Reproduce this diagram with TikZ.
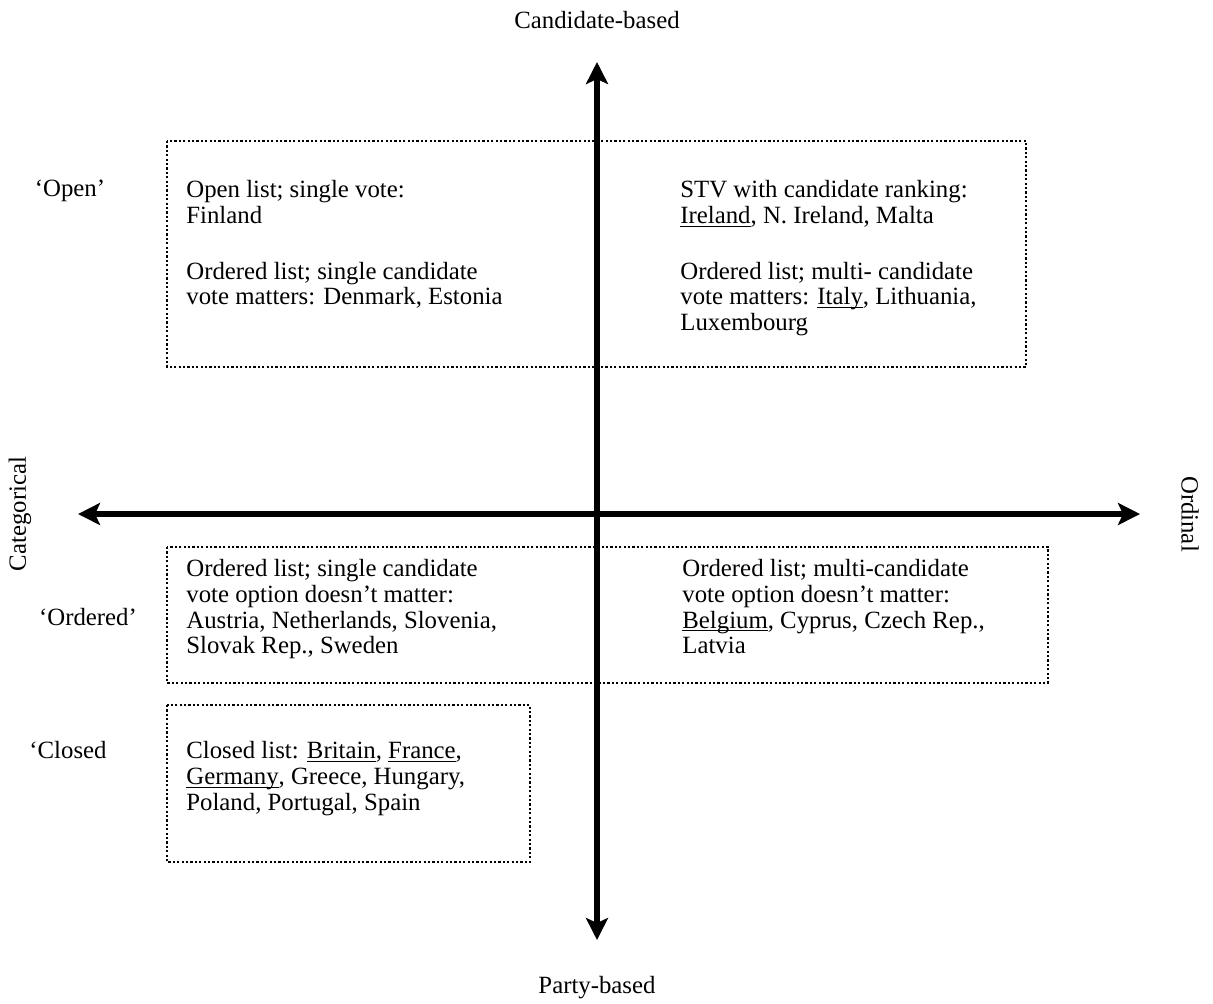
\documentclass[tikz,border=0pt]{standalone}
\usepackage{fontspec}
\setmainfont{Liberation Serif}
\usetikzlibrary{arrows.meta,positioning}

% underline at a fixed depth, through descenders
\newcommand{\undl}[1]{\underline{\smash{#1}}}

\begin{document}
\begin{tikzpicture}[
    x=0.5pt, y=-0.5pt,% one unit = one pixel of the sketch
    font=\fontsize{12.4}{12.9}\selectfont,
    axis/.style={
        % the two thick axes
        line width=3pt,
        {Stealth[length=11pt,width=11pt,inset=2.5pt]}-{Stealth[length=11pt,width=11pt,inset=2.5pt]}
      },
    group/.style={
        % dotted frames
        draw,
        line width=1.1pt,
        dash pattern=on 1.1pt off 1.1pt
      },
    entry/.style={
        % text inside the frames
        anchor=north west,
        inner sep=0pt,
        align=left
      },
    side/.style={inner sep=0pt}
  ]
  \useasboundingbox (0,0) rectangle (1213,1003);

  % frames
  \draw[group] (167,141) rectangle (1026,367);
  \draw[group] (167,547) rectangle (1048,683);
  \draw[group] (167,705) rectangle (530,862);

  % axes
  \coordinate (cand) at (597,62);
  \coordinate (party) at (597,940);
  \coordinate (cat) at (78,514);
  \coordinate (ord) at (1140,514);
  \draw[axis] (party) -- (cand);
  \draw[axis] (cat) -- (ord);

  \node[side] (candlbl) at (597,20) {Candidate-based};
  \node[side] (partylbl) at (597,988) {Party-based};
  \node[side,rotate=90] (catlbl) at (20,514) {Categorical};
  \node[side,rotate=-90] (ordlbl) at (1190,514) {Ordinal};

  % rows
  \node[side] (openlbl) at (70,191) {‘Open’};
  \node[side] (orderedlbl) at (88,617) {‘Ordered’};
  \node[side] (closedlbl) at (68,750) {‘Closed};

  % entries
  \node[entry] (openleft) at (186,179) {\strut Open list; single vote:\\
    Finland\\[15pt]
    Ordered list; single candidate\\
    vote matters: Denmark, Estonia};
  \node[entry] (openright) at (680,179) {\strut STV with candidate ranking:\\
    \undl{Ireland}, N. Ireland, Malta\\[15pt]
    Ordered list; multi- candidate\\
    vote matters: \undl{Italy}, Lithuania,\\
    Luxembourg};
  \node[entry] (ordleft) at (186,558) {\strut Ordered list; single candidate\\
    vote option doesn’t matter:\\
    Austria, Netherlands, Slovenia,\\
    Slovak Rep., Sweden};
  \node[entry] (ordright) at (682,558) {\strut Ordered list; multi-candidate\\
    vote option doesn’t matter:\\
    \undl{Belgium}, Cyprus, Czech Rep.,\\
    Latvia};
  \node[entry] (closedleft) at (186,740) {\strut Closed list: \undl{Britain}, \undl{France},\\
    \undl{Germany}, Greece, Hungary,\\
    Poland, Portugal, Spain};
\end{tikzpicture}
\end{document}
